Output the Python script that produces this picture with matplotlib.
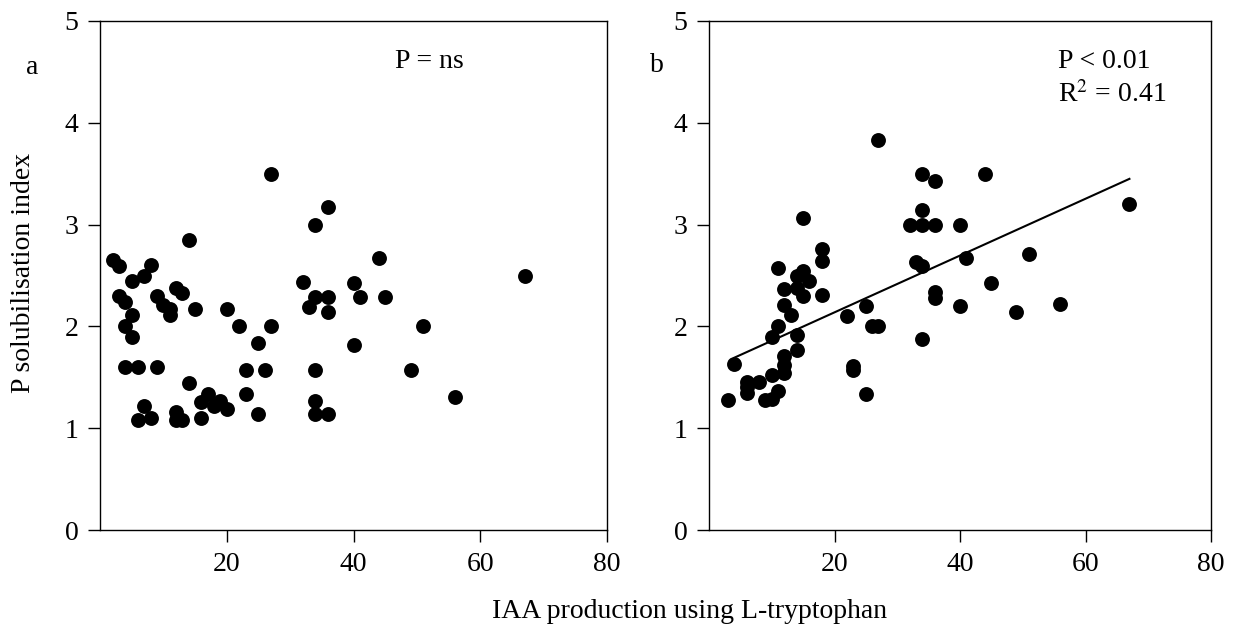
import numpy as np
import matplotlib
matplotlib.use("Agg")
import matplotlib.pyplot as plt

plt.rcParams['font.family'] = ['Liberation Serif', 'DejaVu Serif']
plt.rcParams['mathtext.fontset'] = 'stix'

# panel a: IAA vs P solubilisation (no significant relation)
xa = [14, 2, 3, 8, 7, 5, 3, 4, 9, 12, 13, 10, 11, 11, 15, 20, 22, 5, 4, 5,
      4, 6, 9, 23, 14, 23, 17, 16, 18, 19, 20, 7, 6, 8, 12, 12, 13, 16,
      27, 36, 34, 44, 67, 32, 40, 34, 36, 41, 45, 33, 36, 27, 25, 26, 40,
      34, 49, 51, 56, 25, 34, 34, 36]
ya = [2.85, 2.65, 2.59, 2.60, 2.50, 2.45, 2.30, 2.24, 2.30, 2.38, 2.33, 2.21, 2.17, 2.11, 2.17, 2.17, 2.00, 2.11, 2.00, 1.90,
      1.60, 1.60, 1.60, 1.57, 1.44, 1.34, 1.34, 1.26, 1.22, 1.27, 1.19, 1.22, 1.08, 1.10, 1.16, 1.08, 1.08, 1.10,
      3.50, 3.17, 3.00, 2.67, 2.50, 2.44, 2.43, 2.29, 2.29, 2.29, 2.29, 2.19, 2.14, 2.00, 1.84, 1.57, 1.82,
      1.57, 1.57, 2.00, 1.31, 1.14, 1.27, 1.14, 1.14]

# panel b: IAA vs P solubilisation (P < 0.01)
xb = [15, 18, 18, 11, 14, 15, 16, 12, 14, 15, 18, 12, 13, 22, 11, 10, 14, 14, 4, 12,
      12, 12, 23, 23, 6, 6, 6, 8, 10, 11, 9, 10, 3,
      27, 34, 36, 44, 67, 34, 32, 34, 36, 40, 33, 34, 41, 51, 45, 36, 36,
      25, 40, 56, 49, 26, 27, 34, 25]
yb = [3.06, 2.76, 2.64, 2.57, 2.50, 2.54, 2.45, 2.37, 2.38, 2.30, 2.31, 2.21, 2.11, 2.10, 2.00, 1.90, 1.92, 1.77, 1.63, 1.71,
      1.62, 1.54, 1.61, 1.57, 1.45, 1.40, 1.35, 1.45, 1.52, 1.37, 1.28, 1.29, 1.28,
      3.83, 3.50, 3.43, 3.50, 3.20, 3.14, 3.00, 3.00, 3.00, 3.00, 2.63, 2.59, 2.67, 2.71, 2.43, 2.34, 2.28,
      2.20, 2.20, 2.22, 2.14, 2.00, 2.00, 1.88, 1.34]

# fitted line
fit_intercept = 1.58
fit_slope = 0.0279
fit_range = [4, 67]

fig = plt.figure(figsize=(12.36, 6.38), dpi=100)
ax1 = fig.add_axes([100/1236, 108/638, 507/1236, 509/638])
ax2 = fig.add_axes([709/1236, 108/638, 502/1236, 509/638])

fs = 20
for ax in (ax1, ax2):
    ax.set_xlim(0, 80)
    ax.set_ylim(0, 5)
    ax.set_xticks([20, 40, 60, 80])
    ax.set_yticks([0, 1, 2, 3, 4, 5])
    ax.tick_params(direction='out', length=8.5, width=1, labelsize=fs, pad=7)
    for s in ax.spines.values():
        s.set_linewidth(1)

ax1.scatter(xa, ya, s=115, color='black', zorder=3, clip_on=False, linewidths=0)
ax2.scatter(xb, yb, s=115, color='black', zorder=3, clip_on=False, linewidths=0)

xl = np.array(fit_range)
ax2.plot(xl, fit_intercept + fit_slope*xl, color='black', lw=1.5)

ax1.text(46.5, 4.54, 'P = ns', fontsize=fs, va='baseline')
ax2.text(55.6, 4.54, 'P < 0.01', fontsize=fs, va='baseline')
ax2.text(55.6, 4.20, r'R$^2$ = 0.41', fontsize=fs, va='baseline')

fig.text(32/1236, 1 - 67/638, 'a', fontsize=fs, va='center', ha='center')
fig.text(657/1236, 1 - 66/638, 'b', fontsize=fs, va='center', ha='center')

fig.text(24/1236, 1 - 273/638, 'P solubilisation index', fontsize=fs, rotation=90, va='center', ha='center')
fig.text(690/1236, 1 - 612/638, 'IAA production using L-tryptophan', fontsize=fs, va='center', ha='center')

fig.savefig('out.png', dpi=100)
